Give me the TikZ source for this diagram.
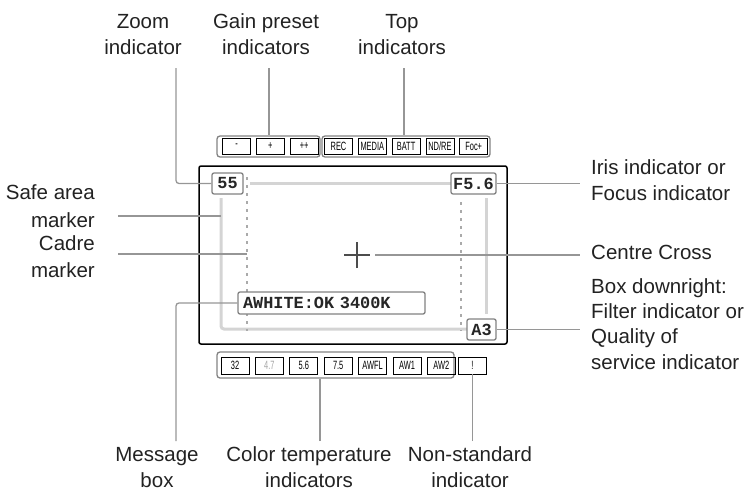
\documentclass[tikz,border=0pt]{standalone}
\usepackage{fontspec}
\setmainfont{Liberation Sans}
\newfontfamily\monofont{Liberation Mono}
\newfontfamily\btnfont[FakeStretch=0.62]{Liberation Sans}
\usetikzlibrary{positioning}
\definecolor{lblgray}{RGB}{34,34,34}
\definecolor{leadgray}{RGB}{150,150,150}
\definecolor{safegray}{RGB}{212,212,212}
\definecolor{cadregray}{RGB}{170,170,170}
\definecolor{boxgray}{RGB}{130,130,130}

\begin{document}
\begin{tikzpicture}[x=1pt,y=-1pt,node distance=5pt,
  lbl/.style={font=\fontsize{20.5}{26}\selectfont,text=lblgray,inner sep=0pt},
  lead/.style={draw=leadgray,line width=1.3pt,rounded corners=3pt},
  btn/.style={draw,line width=0.8pt,minimum width=28pt,minimum height=16pt,inner sep=0pt,font=\btnfont\fontsize{12}{12}\selectfont},
  grp/.style={draw=boxgray,line width=1.3pt,rounded corners=3pt,inner sep=0pt},
  val/.style={draw=boxgray,fill=white,line width=1.3pt,rounded corners=2pt,minimum height=21pt,inner sep=0pt,font=\monofont\bfseries\fontsize{16.9}{17}\selectfont,text=black!85},
  cadre/.style={cadregray,line width=2.5pt,dash pattern=on 2.5pt off 5.5pt}]
\useasboundingbox (0,0) rectangle (749,490);
\draw[line width=1.5pt,rounded corners=2pt] (199,166) rectangle (507,344);
\draw[safegray,line width=3pt] (250,183) -- (451,183);
\draw[safegray,line width=3pt,rounded corners=3pt] (221,198) -- (221,329) -- (467,329);
\draw[safegray,line width=3pt] (486,198) -- (486,314);
\draw[cadre] (247,177) -- (247,331);
\draw[cadre] (461,202) -- (461,331);
\coordinate (ctr) at (357,255);
\draw[black!70,line width=1.2pt] ([xshift=-13pt]ctr) -- ([xshift=13pt]ctr) ([yshift=-13pt]ctr) -- ([yshift=13pt]ctr);

\node[val,minimum width=31pt] (zoomval) at (227.5,183.5) {55};
\node[val,minimum width=45pt] (irisval) at (473.5,183.5) {F5.6};
\node[val,minimum width=29pt] (filtval) at (481.5,329.5) {A3};
\node[val,minimum width=187pt,minimum height=22pt,text width=177pt,align=left] (msg) at (331.5,303) {AWHITE:OK 3400K};

\node[grp,minimum width=103pt,minimum height=21pt] (gaingrp) at (268.5,146.5) {};
\node[grp,minimum width=168pt,minimum height=21pt] (topgrp) at (406,146.5) {};
\node[btn] (g1) at (236.5,146) {-};
\node[btn,right=of g1] (g2) {+};
\node[btn,right=of g2] (g3) {++};
\node[btn] (t1) at (338.5,146) {REC};
\node[btn,right=of t1] (t2) {MEDIA};
\node[btn,right=of t2] (t3) {BATT};
\node[btn,right=of t3] (t4) {ND/RE};
\node[btn,right=of t4] (t5) {Foc+};

\node[grp,minimum width=237pt,minimum height=26pt] (ctgrp) at (335.5,365) {};
\node[btn,minimum height=17pt] (c1) at (235,365.5) {32};
\node[btn,minimum height=17pt,right=5.6pt of c1,text=black!35] (c2) {4.7};
\node[btn,minimum height=17pt,right=5.6pt of c2] (c3) {5.6};
\node[btn,minimum height=17pt,right=5.6pt of c3] (c4) {7.5};
\node[btn,minimum height=17pt,right=5.6pt of c4] (c5) {AWFL};
\node[btn,minimum height=17pt,right=5.6pt of c5] (c6) {AW1};
\node[btn,minimum height=17pt,right=5.6pt of c6] (c7) {AW2};
\node[btn,minimum height=17pt] (nsbtn) at (472.5,365.5) {!};

\node[lbl,align=center,anchor=base] (zoomlbl) at (143,54) {Zoom\\indicator};
\node[lbl,align=center,anchor=base] (gainlbl) at (266,54) {Gain preset\\indicators};
\node[lbl,align=center,anchor=base] (toplbl) at (402,54) {Top\\indicators};
\node[lbl,align=right,anchor=base east,font=\fontsize{20.5}{28}\selectfont] (safelbl) at (95,227) {Safe area\\marker};
\node[lbl,align=right,anchor=base east,font=\fontsize{20.5}{27}\selectfont] (cadrelbl) at (95,277) {Cadre\\marker};
\node[lbl,align=left,anchor=base west] (irislbl) at (591,200) {Iris indicator or\\Focus indicator};
\node[lbl,anchor=base west] (ctrlbl) at (591,259) {Centre Cross};
\node[lbl,align=left,anchor=base west,font=\fontsize{20.5}{25.3}\selectfont] (filtlbl) at (591,369) {Box downright:\\Filter indicator or\\Quality of\\service indicator};
\node[lbl,align=center,anchor=base] (msglbl) at (157,487) {Message\\box};
\node[lbl,align=center,anchor=base] (ctlbl) at (309,487) {Color temperature\\indicators};
\node[lbl,align=center,anchor=base] (nslbl) at (470,487) {Non-standard\\indicator};

\coordinate (zoomtip) at (176,68);
\coordinate (gaintip) at (269,68);
\coordinate (toptip) at (404,68);
\coordinate (safetip) at (118,216);
\coordinate (safeleft) at (221,216);
\coordinate (cadretip) at (118,254);
\coordinate (cadreleft) at (247,254);
\coordinate (msgtip) at (176,441);
\coordinate (cttip) at (320,441);
\coordinate (nstip) at (472.5,441);
\coordinate (iristip) at (580,183.5);
\coordinate (ctrtip) at (580,255);
\coordinate (filttip) at (580,329.5);
\draw[lead] (zoomtip) |- (zoomval.west);
\draw[lead] (gaintip) -- (gaintip |- gaingrp.north);
\draw[lead] (toptip) -- (toptip |- topgrp.north);
\draw[lead] (safetip) -- (safeleft);
\draw[lead] (cadretip) -- (cadreleft);
\draw[lead] (msgtip) |- (msg.west);
\draw[lead] (cttip) -- (cttip |- ctgrp.south);
\draw[lead] (nstip) -- (nsbtn.south);
\draw[lead] (irisval.east) -- (iristip);
\draw[lead] ([xshift=18pt]ctr) -- (ctrtip);
\draw[lead] (filtval.east) -- (filttip);
\end{tikzpicture}
\end{document}
